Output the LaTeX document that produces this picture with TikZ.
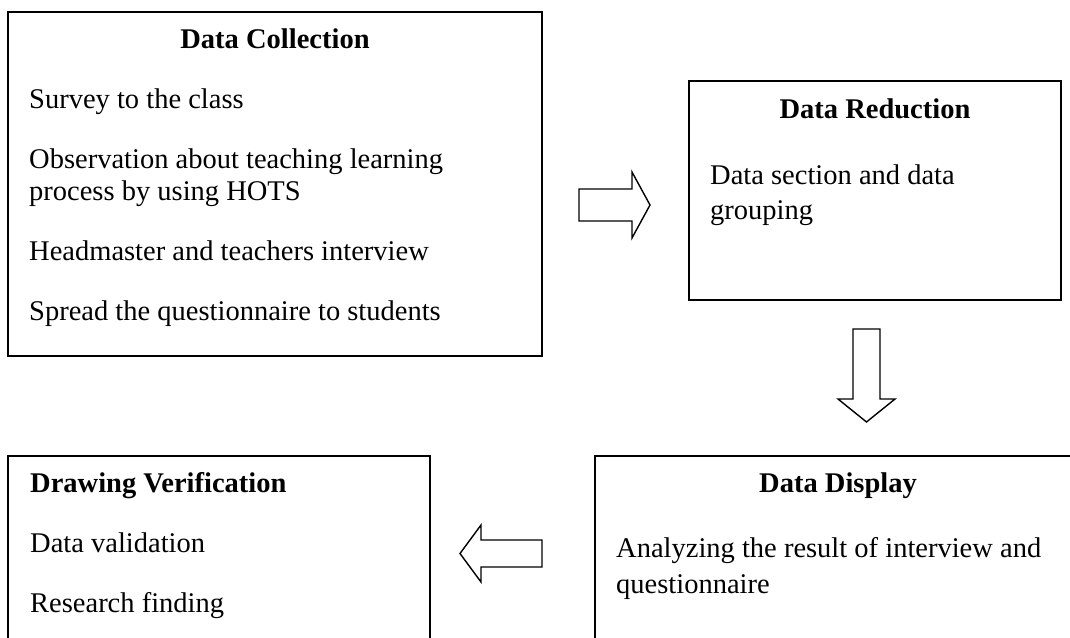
\documentclass[tikz,border=0pt]{standalone}
\usepackage{fontspec}
\setmainfont{Liberation Serif}
\begin{document}
\begin{tikzpicture}[x=1pt,y=-1pt,
  box/.style={draw=black, line width=1.6pt, rectangle, inner sep=0pt, anchor=center},
  txt/.style={anchor=base west, inner sep=0pt, font=\fontsize{28.5}{32}\selectfont},
  ttl/.style={anchor=base, inner sep=0pt, font=\fontsize{28.5}{32}\selectfont\bfseries},
  ttlw/.style={anchor=base west, inner sep=0pt, font=\fontsize{28.5}{32}\selectfont\bfseries},
  blockarrow/.style={draw=black, line width=1.4pt, line join=miter, fill=white}]
\useasboundingbox (0,0) rectangle (1070,637);
\clip (0,0) rectangle (1070,637);
\fill[white] (0,0) rectangle (1070,637);

% Boxes
\node[box, minimum width=534pt, minimum height=344pt] (b1) at (275,184) {};
\node[box, minimum width=372pt, minimum height=219pt] (b2) at (875,190.5) {};
\node[box, minimum width=422pt, minimum height=224pt] (b3) at (219,568) {};
\node[box, minimum width=486pt, minimum height=224pt] (b4) at (838,568) {};

% Data Collection
\node[ttl] (t1) at (275,48) {Data Collection};
\node[txt] (l11) at (29,108) {Survey to the class};
\node[txt] (l12) at (29,168) {Observation about teaching learning};
\node[txt] (l13) at (29,200) {process by using HOTS};
\node[txt] (l14) at (29,260) {Headmaster and teachers interview};
\node[txt] (l15) at (29,320) {Spread the questionnaire to students};

% Data Reduction
\node[ttl] (t2) at (875,118) {Data Reduction};
\node[txt] (l21) at (710,184) {Data section and data};
\node[txt] (l22) at (710,219) {grouping};

% Drawing Verification
\node[ttlw] (t3) at (30,492) {Drawing Verification};
\node[txt] (l31) at (30,552) {Data validation};
\node[txt] (l32) at (30,612) {Research finding};

% Data Display
\node[ttl] (t4) at (838,492) {Data Display};
\node[txt] (l41) at (616,557) {Analyzing the result of interview and};
\node[txt] (l42) at (616,593) {questionnaire};

% Block arrows
\draw[blockarrow] (579,189) -- (632,189) -- (632,172) -- (650,205) -- (632,238) -- (632,221) -- (579,221) -- cycle;
\draw[blockarrow] (853,329) -- (880,329) -- (880,399) -- (895,399) -- (866.5,422) -- (838,399) -- (853,399) -- cycle;
\draw[blockarrow] (542,540) -- (481,540) -- (481,525) -- (460,553.5) -- (481,582) -- (481,567) -- (542,567) -- cycle;
\end{tikzpicture}
\end{document}
